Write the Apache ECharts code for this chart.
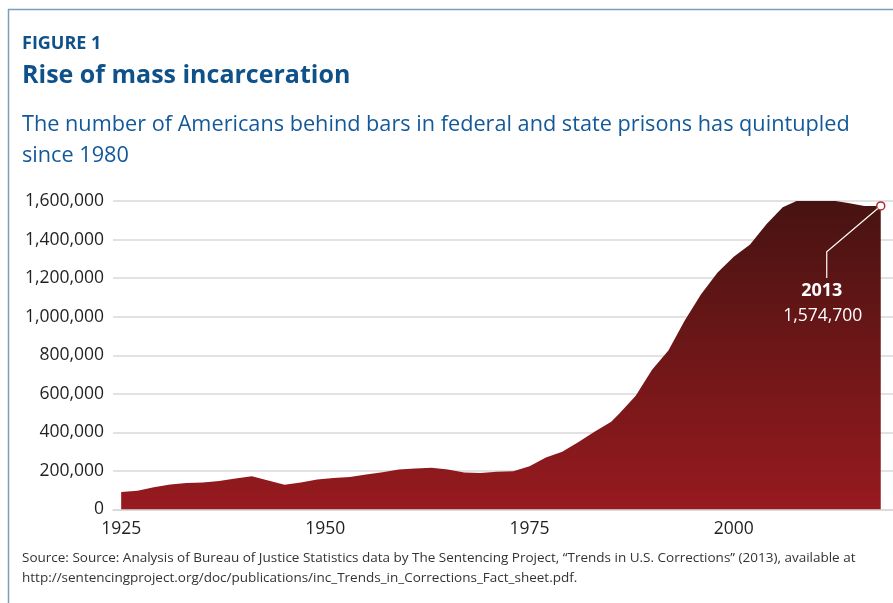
<!DOCTYPE html>
<html>
<head>
<meta charset="utf-8">
<script src="https://cdn.jsdelivr.net/npm/echarts@6/dist/echarts.min.js"></script>
<style>
html, body { margin: 0; padding: 0; background: #fff; }
#chart { width: 893px; height: 603px; }
</style>
</head>
<body>
<div id="chart"></div>
<script>
// prisoners in federal and state prisons
var years = [1925, 1927, 1929, 1931, 1933, 1935, 1937, 1939, 1941, 1943, 1945, 1947, 1949,
	1951, 1953, 1955, 1957, 1959, 1961, 1963, 1965, 1967, 1969, 1971, 1973, 1975, 1977,
	1979, 1981, 1983, 1985, 1986, 1988, 1990, 1992, 1994, 1996, 1998, 2000, 2002, 2004,
	2006, 2008, 2010, 2012, 2014, 2016, 2018];
var inmates = [91000, 97000, 115000, 130000, 137000, 140000, 148000, 161000, 172000, 150000,
	129000, 140000, 155000, 163000, 169000, 181000, 193000, 207000, 213000, 217000, 207000,
	192000, 189000, 196000, 199000, 224000, 270000, 300000, 350000, 405000, 455000, 498000,
	590000, 725000, 825000, 980000, 1117000, 1228000, 1311000, 1375000, 1480000, 1568000,
	1606000, 1610000, 1603000, 1590000, 1574000, 1574700];
var yTicks = [0, 200000, 400000, 600000, 800000, 1000000, 1200000, 1400000, 1600000];
var xTicks = [1925, 1950, 1975, 2000];
var noteYear = '2013';
var noteValue = '1,574,700';

var fontFamily = '"Open Sans", sans-serif';
var chart = echarts.init(document.getElementById('chart'));

var seriesData = years.map(function(y, i) { return [y, inmates[i]]; });
var last = seriesData.length - 1;
seriesData[last] =
{
	value: seriesData[last],
	symbol: 'circle',
	symbolSize: 8,
	itemStyle: { color: '#fff', borderColor: '#b3282d', borderWidth: 1.5 }
};

var options =
{
	animation: false,
	title:
	[
		{
			text: 'FIGURE 1', left: 22, top: 35, padding: 0,
			textStyle: { fontFamily: fontFamily, fontSize: 18, fontWeight: 'bold', color: '#0f5189' }
		},
		{
			text: 'Rise of mass incarceration', left: 22, top: 63, padding: 0,
			textStyle: { fontFamily: fontFamily, fontSize: 25, fontWeight: 'bold', color: '#0f5189' }
		},
		{
			text: 'The number of Americans behind bars in federal and state prisons has quintupled\nsince 1980',
			left: 22, top: 109, padding: 0,
			textStyle: { fontFamily: fontFamily, fontSize: 21.7, fontWeight: 'normal', color: '#13599a', lineHeight: 31 }
		},
		{
			text: 'Source: Source: Analysis of Bureau of Justice Statistics data by The Sentencing Project, \u201CTrends in U.S. Corrections\u201D (2013), available at\nhttp://sentencingproject.org/doc/publications/inc_Trends_in_Corrections_Fact_sheet.pdf.',
			left: 22, top: 548, padding: 0,
			textStyle: { fontFamily: fontFamily, fontSize: 13.5, fontWeight: 'normal', color: '#333', lineHeight: 20 }
		}
	],
	grid: { left: 113, right: 0, top: 201, bottom: 93.5 },
	xAxis:
	{
		type: 'value',
		min: 1924,
		max: 2019.5,
		axisLine: { show: true, lineStyle: { color: '#d9d9d9', width: 1.5 } },
		axisTick: { show: false },
		splitLine: { show: false },
		axisLabel:
		{
			customValues: xTicks,
			margin: 11,
			color: '#231f20',
			fontFamily: fontFamily,
			fontSize: 17.5,
			formatter: function(v) { return String(v); }
		}
	},
	yAxis:
	{
		type: 'value',
		min: yTicks[0],
		max: yTicks[yTicks.length - 1],
		interval: 200000,
		axisLine: { show: false },
		axisTick: { show: false },
		splitLine: { lineStyle: { color: '#d9d9d9', width: 1.5 } },
		axisLabel:
		{
			margin: 9,
			color: '#231f20',
			fontFamily: fontFamily,
			fontSize: 17.5,
			formatter: function(v) { return v.toLocaleString('en-US'); }
		}
	},
	series:
	[
		{
			type: 'line',
			data: seriesData,
			symbol: 'none',
			lineStyle: { width: 0 },
			areaStyle:
			{
				opacity: 1,
				color: new echarts.graphic.LinearGradient(0, 0, 0, 1,
				[
					{ offset: 0, color: '#461311' },
					{ offset: 1, color: '#971a1f' }
				])
			},
			z: 3
		}
	]
};

chart.setOption(options);

// frame and the note on the last point
var p = chart.convertToPixel({ seriesIndex: 0 }, [years[last], inmates[last]]);
chart.setOption(
{
	graphic:
	[
		{ type: 'line', shape: { x1: 8, y1: 9.5, x2: 893, y2: 9.5 }, style: { stroke: '#7c9bbf', lineWidth: 1.5 } },
		{ type: 'line', shape: { x1: 8.5, y1: 9, x2: 8.5, y2: 603 }, style: { stroke: '#7c9bbf', lineWidth: 1.5 } },
		{
			type: 'polyline', z: 10,
			shape: { points: [[p[0] - 3, p[1] + 2.6], [p[0] - 54, p[1] + 46], [p[0] - 54, p[1] + 72]] },
			style: { stroke: '#fff', lineWidth: 1.2, fill: null }
		},
		{
			type: 'text', z: 10, x: p[0] - 59, y: p[1] + 85,
			style: { text: noteYear, fill: '#fff', font: 'bold 18px "Open Sans", sans-serif', align: 'center', verticalAlign: 'middle' }
		},
		{
			type: 'text', z: 10, x: p[0] - 58, y: p[1] + 110,
			style: { text: noteValue, fill: '#fff', font: '17.5px "Open Sans", sans-serif', align: 'center', verticalAlign: 'middle' }
		}
	]
});
</script>
</body>
</html>
